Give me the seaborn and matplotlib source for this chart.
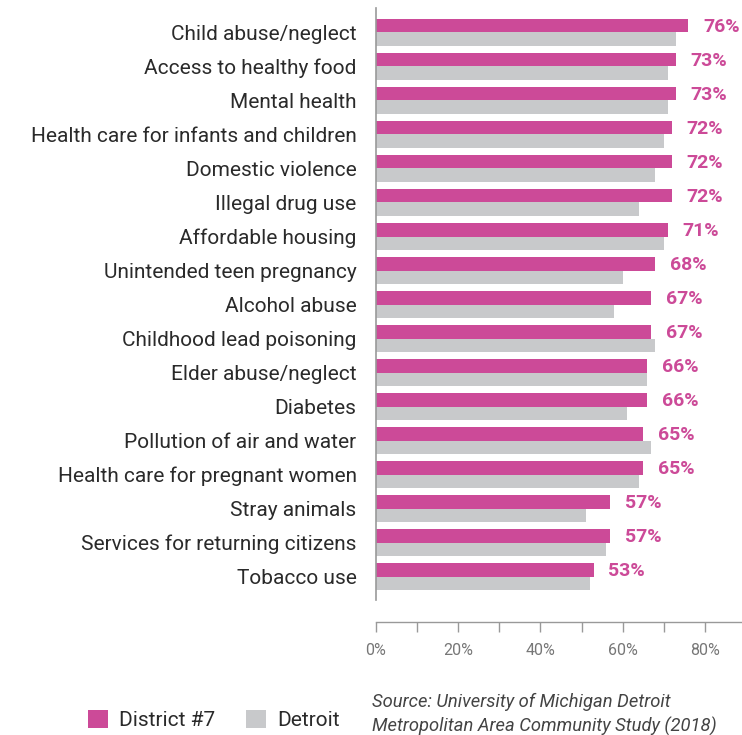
import pandas as pd
import numpy as np
import seaborn as sns
import matplotlib.pyplot as plt
from matplotlib.ticker import MultipleLocator, FuncFormatter

issues = ['Child abuse/neglect', 'Access to healthy food', 'Mental health',
          'Health care for infants and children', 'Domestic violence',
          'Illegal drug use', 'Affordable housing', 'Unintended teen pregnancy',
          'Alcohol abuse', 'Childhood lead poisoning', 'Elder abuse/neglect',
          'Diabetes', 'Pollution of air and water',
          'Health care for pregnant women', 'Stray animals',
          'Services for returning citizens', 'Tobacco use']
district7 = [76, 73, 73, 72, 72, 72, 71, 68, 67, 67, 66, 66, 65, 65, 57, 57, 53]
detroit = [73, 71, 71, 70, 68, 64, 70, 60, 58, 68, 66, 61, 67, 64, 51, 56, 52]

df = pd.DataFrame({'Issue': issues * 2,
                   'Pct': district7 + detroit,
                   'Area': ['District #7'] * len(issues) + ['Detroit'] * len(issues)})

sns.set_style('white')
plt.rcParams['font.family'] = ['Roboto', 'DejaVu Sans']

fig = plt.figure(figsize=(7.42, 7.35), dpi=100)
ax = fig.add_axes([376 / 742, 1 - 600 / 735, 366 / 742, 592 / 735])

sns.barplot(data=df, y='Issue', x='Pct', hue='Area', orient='h',
            palette={'District #7': '#CC4A98', 'Detroit': '#C8C9CB'},
            saturation=1, linewidth=0, width=0.8, ax=ax, legend=True)

ax.set_xlim(0, 366 / 4.11)
ax.set_ylim(16.69, -0.72)
ax.set_xlabel('')
ax.set_ylabel('')

# value labels on the District #7 bars, nudged down a touch
labs = ax.bar_label(ax.containers[0], fmt='%.0f%%', padding=10.5, color='#CC4A98',
                    fontsize=14, fontweight='bold')
for t in labs:
    t.xyann = (10.5, -1.2)

for s in ['top', 'right']:
    ax.spines[s].set_visible(False)
ax.spines['left'].set_color('#999999')
ax.spines['left'].set_linewidth(1.2)
ax.spines['bottom'].set_position(('outward', 16))
ax.spines['bottom'].set_color('#999999')
ax.spines['bottom'].set_linewidth(1.0)

ax.tick_params(axis='y', length=0, pad=14, labelsize=15, labelcolor='#2a2a2a')
ax.xaxis.set_major_locator(MultipleLocator(20))
ax.xaxis.set_minor_locator(MultipleLocator(10))
ax.xaxis.set_major_formatter(FuncFormatter(lambda v, p: f'{v:.0f}%'))
ax.tick_params(axis='x', which='both', direction='out', length=7, width=1,
               color='#999999', labelsize=11.5, labelcolor='#777777', pad=8,
               bottom=True)

handles, labels = ax.get_legend_handles_labels()
ax.get_legend().remove()
fig.legend(handles, labels, loc='center left', bbox_to_anchor=(69 / 742, 1 - 720 / 735),
           ncol=2, frameon=False, fontsize=15, handlelength=0.95, handleheight=0.95,
           handletextpad=0.55, columnspacing=1.5, labelcolor='#2a2a2a')

fig.text(372 / 742, 1 - 702 / 735, 'Source: University of Michigan Detroit',
         fontsize=13.2, style='italic', color='#444444', va='center', ha='left')
fig.text(372 / 742, 1 - 726 / 735, 'Metropolitan Area Community Study (2018)',
         fontsize=13.2, style='italic', color='#444444', va='center', ha='left')

fig.savefig('out.png', dpi=100)
